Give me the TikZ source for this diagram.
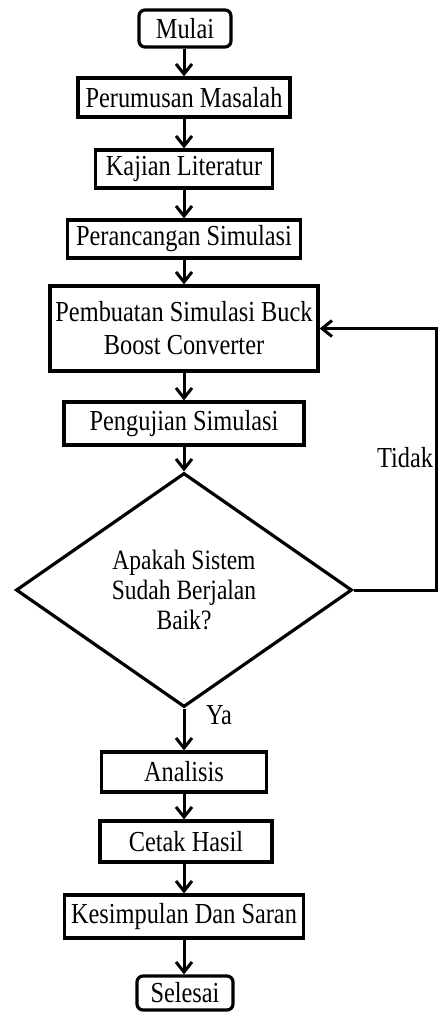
\documentclass[tikz,border=0pt]{standalone}
\usepackage{fontspec}
\setmainfont[FakeStretch=0.84]{Liberation Serif}
\usetikzlibrary{arrows.meta,shapes.geometric}
\begin{document}
\begin{tikzpicture}[x=1pt,y=-1pt,
  every node/.style={font=\fontsize{29}{33}\selectfont},
  box/.style={draw,line width=3.2pt,inner sep=0pt,align=center},
  term/.style={box,rounded corners=6pt},
  dec/.style={draw,line width=3.2pt,diamond,inner sep=0pt,align=center,minimum width=336pt,minimum height=234pt,font=\fontsize{28}{30}\selectfont},
  flow/.style={line width=3pt,-{Straight Barb[length=10pt,width=16pt,line width=3pt]}},
  lbl/.style={inner sep=0pt}]
\useasboundingbox (0,0) rectangle (438,1012);
\node[term,minimum width=92pt,minimum height=37pt] (mulai) at (185,28.5) {Mulai};
\node[box,minimum width=212pt,minimum height=39pt] (rumus) at (184,97.5) {Perumusan Masalah};
\node[box,minimum width=177pt,minimum height=38pt] (kaji) at (184,169) {Kajian Literatur};
\node[box,minimum width=233pt,minimum height=38pt] (rancang) at (184,239) {Perancangan Simulasi};
\node[box,minimum width=268pt,minimum height=85pt] (buat) at (184,328.5) {Pembuatan Simulasi Buck\\Boost Converter};
\node[box,minimum width=240pt,minimum height=43pt] (uji) at (184,423.5) {Pengujian Simulasi};
\node[dec] (cek) at (184,590) {Apakah Sistem\\Sudah Berjalan\\Baik?};
\node[box,minimum width=165pt,minimum height=40pt] (analisis) at (184,772) {Analisis};
\node[box,minimum width=172pt,minimum height=41pt] (cetak) at (186,841.5) {Cetak Hasil};
\node[box,minimum width=239pt,minimum height=43pt] (simpul) at (184,916.5) {Kesimpulan Dan Saran};
\node[term,minimum width=96pt,minimum height=34pt] (selesai) at (185,993) {Selesai};
\coordinate (fb) at (436,590);
\node[lbl] (tidak) at (405,458) {Tidak};
\node[lbl] (ya) at (219,715) {Ya};
\draw[flow] (mulai.south -| rumus.north) -- (rumus.north);
\draw[flow] (rumus) -- (kaji);
\draw[flow] (kaji) -- (rancang);
\draw[flow] (rancang) -- (buat);
\draw[flow] (buat) -- (uji);
\draw[flow] (uji) -- (cek);
\draw[flow] (cek) -- (analisis);
\draw[flow] (analisis.south) -- (analisis.south |- cetak.north);
\draw[flow] (cetak.south -| simpul.north) -- (simpul.north);
\draw[flow] (simpul.south) -- (simpul.south |- selesai.north);
\draw[flow] (cek.east) -- (fb) |- (buat.east);
\end{tikzpicture}
\end{document}
